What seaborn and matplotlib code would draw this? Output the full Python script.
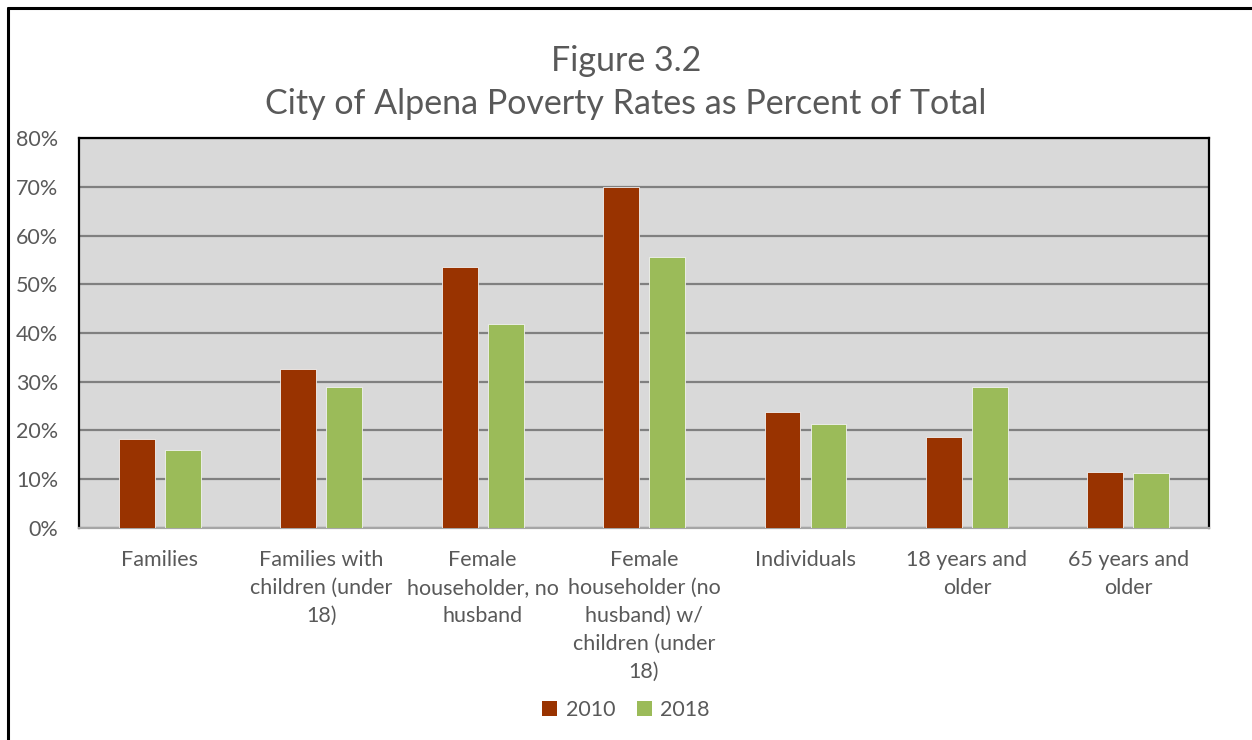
import seaborn as sns
import matplotlib.pyplot as plt
import matplotlib.lines as mlines
import matplotlib.patches as mpatches
import pandas as pd

categories = [
    "Families",
    "Families with\nchildren (under\n18)",
    "Female\nhouseholder, no\nhusband",
    "Female\nhouseholder (no\nhusband) w/\nchildren (under\n18)",
    "Individuals",
    "18 years and\nolder",
    "65 years and\nolder",
]
years = ["2010", "2018"]
rates_2010 = [18.3, 32.7, 53.6, 70.0, 23.7, 18.7, 11.5]
rates_2018 = [16.0, 29.0, 41.9, 55.6, 21.4, 29.0, 11.3]
colors = ["#993300", "#9BBB59"]

df = pd.DataFrame({
    "category": categories * 2,
    "year": [years[0]] * len(categories) + [years[1]] * len(categories),
    "rate": rates_2010 + rates_2018,
})

sns.set_theme(style="white")
plt.rcParams["font.family"] = ["Lato", "DejaVu Sans"]
text_color = "#595959"

fig = plt.figure(figsize=(12.52, 7.40), dpi=100)
ax = fig.add_axes([0.0631, 0.2865, 0.9026, 0.527])

sns.barplot(
    data=df, x="category", y="rate", hue="year",
    palette=colors, saturation=1, width=0.57, gap=0.22,
    edgecolor="#f2f2f2", linewidth=0.6,
    ax=ax, legend=False, zorder=3,
)

ax.set_facecolor("#D9D9D9")
ax.set_ylim(0, 80)
ax.set_xlim(-0.5, len(categories) - 0.5)
ax.set_yticks(range(0, 81, 10))
ax.set_yticklabels([f"{v}%" for v in range(0, 81, 10)])
ax.yaxis.grid(True, color="#808080", linewidth=1.6, zorder=0)
ax.set_axisbelow(True)
ax.set_xlabel("")
ax.set_ylabel("")
ax.tick_params(axis="both", length=0, labelsize=15.5, colors=text_color)
ax.tick_params(axis="x", pad=16)
ax.tick_params(axis="y", pad=15)
for lbl in ax.get_xticklabels():
    lbl.set_linespacing(1.5)
    lbl.set_va("top")

for side in ["left", "right", "top"]:
    ax.spines[side].set_color("black")
    ax.spines[side].set_linewidth(1.6)
ax.spines["bottom"].set_color("#A6A6A6")
ax.spines["bottom"].set_linewidth(1.6)

fig.text(0.5, 0.889, "Figure 3.2\nCity of Alpena Poverty Rates as Percent of Total",
         ha="center", va="center", fontsize=24.5, color=text_color, linespacing=1.42)

handles = [mpatches.Patch(facecolor=c, edgecolor="none", label=y) for c, y in zip(colors, years)]
fig.legend(handles=handles, loc="center", bbox_to_anchor=(0.5, 0.041), ncol=2,
           frameon=False, fontsize=15.5, labelcolor=text_color,
           handlelength=0.7, handleheight=0.7, handletextpad=0.4, columnspacing=1.0)

# chart frame (left and top edges visible in the crop)
fig.add_artist(mlines.Line2D([0.0064, 0.0064], [0, 0.9892], color="black", linewidth=2.2,
                             transform=fig.transFigure))
fig.add_artist(mlines.Line2D([0.0064, 1.0], [0.9892, 0.9892], color="black", linewidth=2.2,
                             transform=fig.transFigure))

fig.savefig("out.png", dpi=100)
